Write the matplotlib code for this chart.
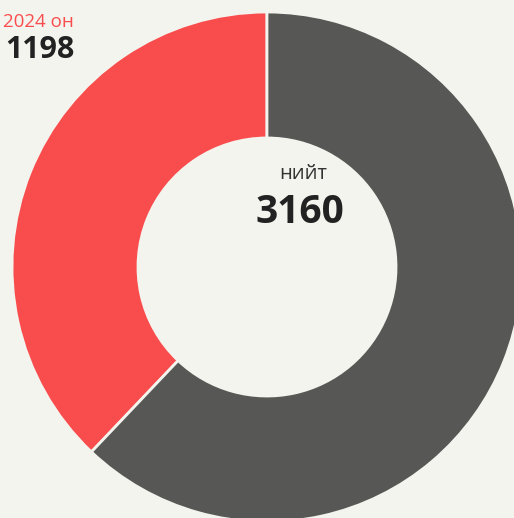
import matplotlib
matplotlib.use('Agg')
import matplotlib.pyplot as plt

# Data
labels = ['2024 он', 'бусад']
values = [1198, 1962]
total_label = 'нийт'
total_value = sum(values)

BG = '#f4f4ef'
colors = ['#f94d4d', '#575756']

plt.rcParams['font.family'] = ['Open Sans', 'DejaVu Sans']

fig = plt.figure(figsize=(5.14, 5.18), dpi=100)
fig.patch.set_facecolor(BG)

# donut centre at (267, 267) px, radius 255 px
ax = fig.add_axes([12 / 514, (518 - 522) / 518, 510 / 514, 510 / 518])
ax.set_facecolor(BG)
ax.pie(values, colors=colors, startangle=90, counterclock=True,
       radius=1.0,
       wedgeprops=dict(width=0.494, edgecolor=BG, linewidth=2))
ax.set_xlim(-1, 1)
ax.set_ylim(-1, 1)
ax.set_aspect('auto')
ax.axis('off')

# centre label
fig.text(303 / 514, 1 - 179 / 518, total_label, ha='center', va='baseline',
         fontsize=14.5, color='#333333')
fig.text(300 / 514, 1 - 223 / 518, str(total_value), ha='center', va='baseline',
         fontsize=28, fontweight='bold', color='#222222')

# top-left label
fig.text(3 / 514, 1 - 27 / 518, labels[0], ha='left', va='baseline',
         fontsize=13.5, color=colors[0])
fig.text(5 / 514, 1 - 58 / 518, str(values[0]), ha='left', va='baseline',
         fontsize=22, fontweight='bold', color='#222222')

fig.savefig('out.png', dpi=100, facecolor=BG)
plt.close(fig)
